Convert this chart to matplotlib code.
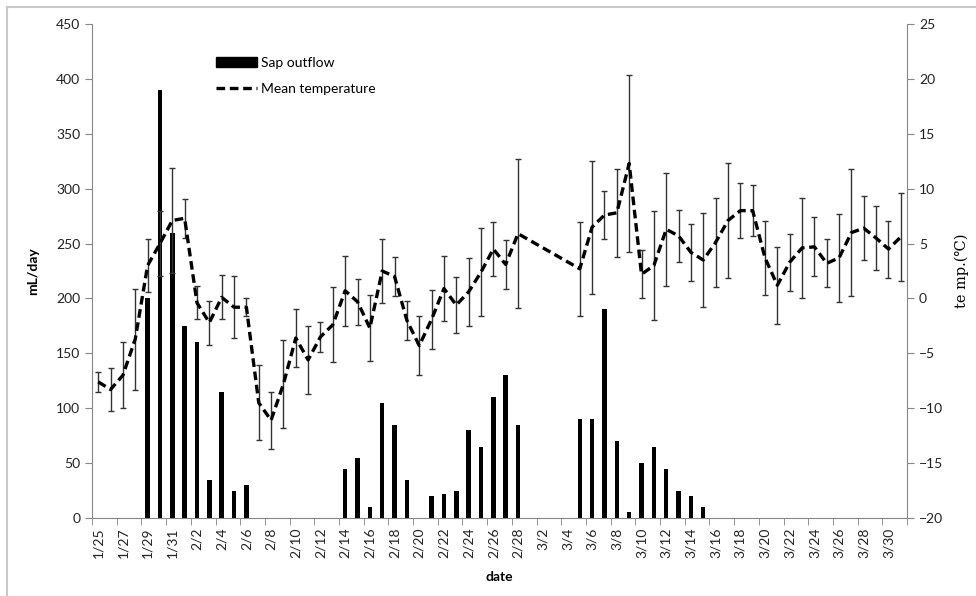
import numpy as np
import pandas as pd
import matplotlib
matplotlib.use("Agg")
import matplotlib.pyplot as plt
from matplotlib.lines import Line2D
from matplotlib.patches import Patch

plt.rcParams['font.family'] = ['Lato', 'DejaVu Sans']

# one category per day, 1/25 .. 3/31
days = pd.date_range('2013-01-25', '2013-03-31')
date_labels = [f"{d.month}/{d.day}" for d in days]

sap_outflow = [0, 0, 0, 0, 200, 390, 260, 175, 160, 35,
               115, 25, 30, 0, 0, 0, 0, 0, 0, 0,
               45, 55, 10, 105, 85, 35, 0, 20, 22, 25,
               80, 65, 110, 130, 85, 0, 0, 0, 0, 90,
               90, 190, 70, 5, 50, 65, 45, 25, 20, 10,
               0, 0, 0, 0, 0, 0, 0, 0, 0, 0,
               0, 0, 0, 0, 0, 0]

# mean temperature and its error (None = no reading)
mean_temp = [-7.6, -8.3, -7.0, -3.7, 3.0, 5.0, 7.1, 7.3, -0.4, -2.2,
             0.1, -0.8, -0.8, -9.5, -11.1, -7.8, -3.6, -5.6, -3.5, -2.4,
             0.7, -0.3, -2.7, 2.5, 2.0, -2.0, -4.3, -1.9, 0.9, -0.6,
             0.6, 2.4, 4.5, 3.1, 5.9, None, None, None, None, 2.7,
             6.5, 7.6, 7.8, 12.3, 2.2, 3.0, 6.3, 5.7, 4.2, 3.5,
             5.1, 7.1, 8.0, 8.0, 3.7, 1.2, 3.3, 4.6, 4.7, 3.2,
             3.7, 6.0, 6.4, 5.5, 4.5, 5.6]
temp_err = [0.9, 1.95, 3.0, 4.6, 2.4, 3.0, 4.8, 1.8, 1.5, 2.0,
            2.0, 2.8, 0.8, 3.4, 2.6, 4.0, 2.6, 3.1, 1.35, 3.4,
            3.2, 2.1, 3.0, 2.9, 1.8, 1.8, 2.7, 2.7, 2.95, 2.55,
            3.1, 4.0, 2.5, 2.2, 6.8, None, None, None, None, 4.3,
            6.05, 2.2, 4.0, 8.05, 2.2, 4.95, 5.15, 2.4, 2.6, 4.3,
            4.05, 5.2, 2.5, 2.3, 3.4, 3.5, 2.6, 4.55, 2.7, 2.2,
            4.0, 5.8, 2.9, 2.9, 2.6, 4.05]

gray = '#868686'
x = np.arange(len(date_labels))

fig = plt.figure(figsize=(9.76, 5.96), dpi=100)
ax = fig.add_axes([0.0943, 0.1309, 0.8350, 0.8288])

ax.bar(x, sap_outflow, width=0.36, color='black', linewidth=0, zorder=2)
ax.set_xlim(-0.5, len(x) - 0.5)
ax.set_ylim(0, 450)
ax.set_yticks(range(0, 451, 50))

ax.set_xticks(x[::2])
ax.set_xticklabels(date_labels[::2], rotation=90)
ax.set_xticks(np.arange(-0.5, len(x), 2), minor=True)
ax.tick_params(axis='x', which='major', length=0, pad=7)
ax.tick_params(axis='x', which='minor', length=5, color=gray, direction='out')
ax.tick_params(axis='y', length=5, color=gray, direction='out')
ax.tick_params(labelsize=10, labelcolor='#222222')

for side in ['left', 'bottom']:
    ax.spines[side].set_color(gray)
ax.spines['top'].set_visible(False)
ax.spines['right'].set_visible(False)

ax.set_ylabel('mL/day', fontsize=10, fontweight='bold', labelpad=12)
ax.set_xlabel('date', fontsize=10, fontweight='bold', labelpad=9)

ax2 = ax.twinx()
tx = [i for i, t in enumerate(mean_temp) if t is not None]
ty = [mean_temp[i] for i in tx]
te = [temp_err[i] for i in tx]
ax2.errorbar(tx, ty, yerr=te, fmt='none', ecolor='#333333', elinewidth=1.0,
             capsize=2.3, capthick=1.0, zorder=2)
ax2.plot(tx, ty, color='black', lw=2.4, linestyle=(0, (2.6, 1.4)), zorder=3)
ax2.set_ylim(-20, 25)
ax2.set_yticks(range(-20, 26, 5))
ax2.tick_params(axis='y', length=5, color=gray, direction='out', labelsize=10,
                labelcolor='#222222')
ax2.spines['right'].set_color(gray)
for side in ['left', 'top', 'bottom']:
    ax2.spines[side].set_visible(False)
ax2.set_ylabel('te mp.(℃)', fontsize=10.5, labelpad=8,
               family=['DejaVu Serif', 'Noto Sans CJK JP'])

handles = [Patch(facecolor='black', edgecolor='black'),
           Line2D([], [], color='black', lw=2.4, linestyle=(0, (2.6, 1.4)))]
fig.legend(handles, ['Sap outflow', 'Mean temperature'], loc='upper left',
           bbox_to_anchor=(0.209, 0.925), frameon=False, fontsize=10,
           handlelength=2.9, handletextpad=0.3, labelspacing=1.0)

# light frame lines around the chart area
fig.add_artist(Line2D([7 / 976, 1], [1 - 7 / 596, 1 - 7 / 596],
                      color='#c8c8c8', lw=1.5, transform=fig.transFigure))
fig.add_artist(Line2D([7 / 976, 7 / 976], [0, 1 - 7 / 596],
                      color='#c8c8c8', lw=1.5, transform=fig.transFigure))

fig.savefig('out.png', dpi=100)
